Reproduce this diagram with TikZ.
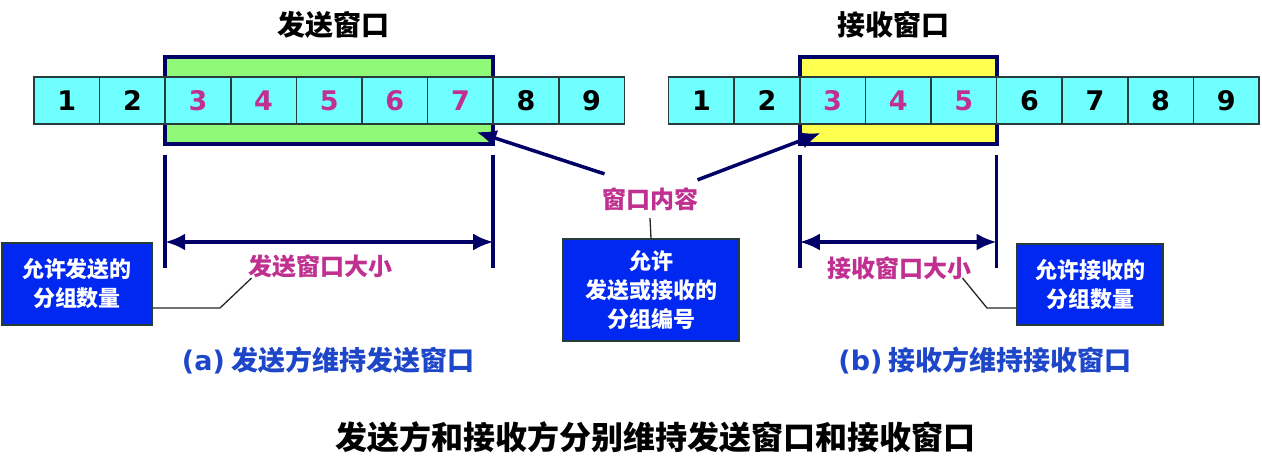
\documentclass[tikz,border=0pt]{standalone}
\usepackage{fontspec}
\setmainfont{Noto Sans CJK SC}
\newfontfamily\numfont{DejaVu Sans}
\usetikzlibrary{arrows.meta,positioning,fit,backgrounds}
\definecolor{cellcyan}{RGB}{112,255,255}
\definecolor{cellline}{RGB}{40,60,60}
\definecolor{wingreen}{RGB}{144,250,120}
\definecolor{winyellow}{RGB}{255,255,80}
\definecolor{navy}{RGB}{0,0,102}
\definecolor{winnum}{RGB}{192,48,144}
\definecolor{boxblue}{RGB}{0,40,240}
\definecolor{captblue}{RGB}{30,70,200}

\begin{document}
\begin{tikzpicture}[x=1pt,y=-1pt,
  cellbox/.style={draw=cellline,line width=1.5pt,fill=cellcyan,minimum width=65.6pt,minimum height=47pt,
    inner sep=0pt,outer sep=0pt,font=\fontsize{27}{30}\selectfont\numfont\bfseries},
  winbox/.style={draw=navy,line width=4pt,inner xsep=0pt,inner ysep=20pt,outer sep=0pt},
  infobox/.style={draw=cellline,line width=1.5pt,fill=boxblue,text=white,align=center,
    font=\fontsize{22}{29}\selectfont\bfseries},
  wlabel/.style={text=winnum,font=\fontsize{24}{28}\selectfont\bfseries},
  ttl/.style={font=\fontsize{28}{32}\selectfont\bfseries},
  capt/.style={text=captblue,font=\fontsize{27}{30}\selectfont\bfseries},
  tip/.tip={Latex[length=20pt,width=17pt]},
  arr/.style={-tip,line width=3.5pt,draw=navy},
  dimarr/.style={tip-tip,line width=3.5pt,draw=navy},
  dimln/.style={line width=3.5pt,draw=navy},
  lead/.style={line width=1.3pt,draw=black!85}
]
\useasboundingbox (0,0) rectangle (1262,476);

% sender row
\node[cellbox] (s1) at (66.8,100.5) {1};
\foreach \i/\c [evaluate=\i as \j using int(\i-1)] in
  {2/black,3/winnum,4/winnum,5/winnum,6/winnum,7/winnum,8/black,9/black}
  \node[cellbox,text=\c,right=0pt of s\j] (s\i) {\i};
% receiver row
\node[cellbox] (r1) at (701.4,100.5) {1};
\foreach \i/\c [evaluate=\i as \j using int(\i-1)] in
  {2/black,3/winnum,4/winnum,5/winnum,6/black,7/black,8/black,9/black}
  \node[cellbox,text=\c,right=0pt of r\j] (r\i) {\i};

\begin{scope}[on background layer]
  \node[winbox,fill=wingreen,fit=(s3)(s7)] (swin) {};
  \node[winbox,fill=winyellow,fit=(r3)(r5)] (rwin) {};
\end{scope}

\node[ttl] (swttl) at (333,25) {发送窗口};
\node[ttl] (rwttl) at (893,25) {接收窗口};

% window sizes
\draw[dimln] ([yshift=-11pt]swin.south west) -- ++(0,113);
\draw[dimln] ([yshift=-11pt]swin.south east) -- ++(0,113);
\draw[dimarr] ([yshift=-98pt]swin.south west) -- ([yshift=-98pt]swin.south east);
\draw[dimln] ([yshift=-11pt]rwin.south west) -- ++(0,113);
\draw[dimln] ([yshift=-11pt]rwin.south east) -- ++(0,113);
\draw[dimarr] ([yshift=-98pt]rwin.south west) -- ([yshift=-98pt]rwin.south east);

\node[wlabel] (swsize) at (320,266) {发送窗口大小};
\node[wlabel] (rwsize) at (899,268) {接收窗口大小};

% window content
\node[wlabel] (cont) at (650,199) {窗口内容};
\draw[arr] ([shift={(6pt,10pt)}]cont.north west) -- ([shift={(16pt,-8pt)}]s7.south);
\draw[arr] ([shift={(-4pt,4pt)}]cont.north east) -- ([shift={(-12pt,-9pt)}]r3.south);

\node[infobox,minimum width=150pt,minimum height=82pt] (sndbox) at (77,284) {允许发送的\\分组数量};
\node[infobox,minimum width=176pt,minimum height=102pt] (idbox) at (651,290) {允许\\发送或接收的\\分组编号};
\node[infobox,minimum width=146pt,minimum height=81pt] (rcvbox) at (1090,284.5) {允许接收的\\分组数量};

\draw[lead] ([yshift=-4pt]cont.south) -- (idbox.north);
\draw[lead] (sndbox.east |- 0,308) -- (220,308) -- ([shift={(7pt,3pt)}]swsize.south west);
\draw[lead] (rcvbox.west |- 0,308) -- (987,308) -- ([shift={(-12pt,5pt)}]rwsize.south east);

\node[capt] (capa) at (328,361) {{\numfont (a)} 发送方维持发送窗口};
\node[capt] (capb) at (985,361) {{\numfont (b)} 接收方维持接收窗口};
\node[ttl,font=\fontsize{32}{36}\selectfont\bfseries] (mainttl) at (655,437) {发送方和接收方分别维持发送窗口和接收窗口};
\end{tikzpicture}
\end{document}
